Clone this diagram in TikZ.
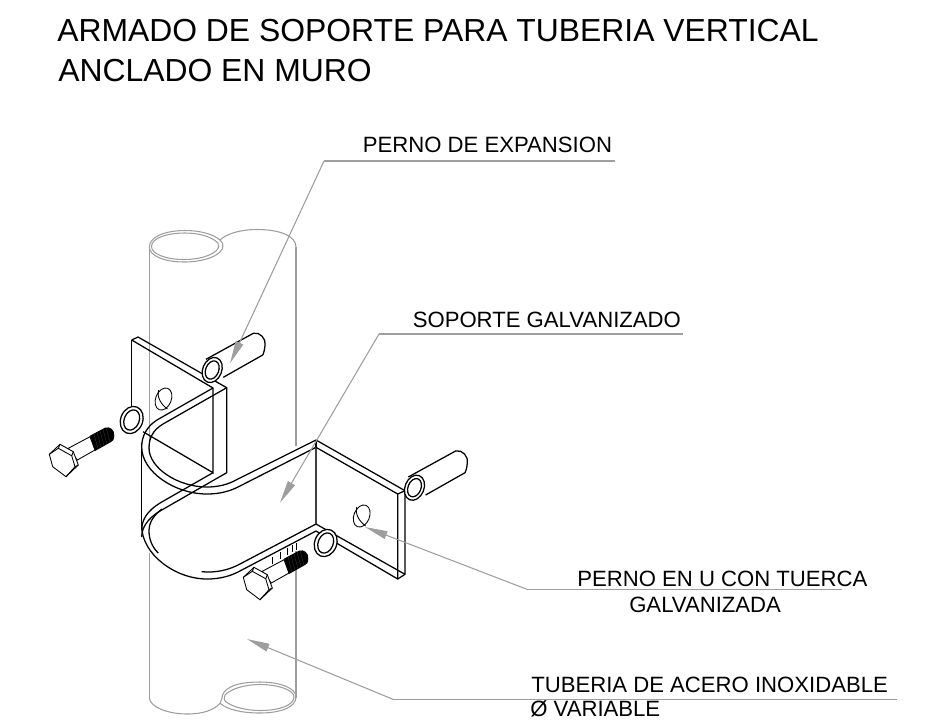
\documentclass[tikz,border=0pt]{standalone}
\usepackage{fontspec}
\setmainfont{Liberation Sans}
\usetikzlibrary{arrows.meta}
\definecolor{pipegray}{gray}{0.62}
\definecolor{leadgray}{gray}{0.62}
\newcommand\drawboltset{
  % washer
  \draw[steel,fill=white,rotate around={-22:(131.7,420)}] (131.7,420) ellipse (11 and 14);
  \draw[steel,rotate around={-22:(131.7,420)}] (131.7,420) ellipse (7.5 and 10.5);
  % shank and thread
  \draw[thin steel,fill=white] (68.3,448.3) -- (90,436.7) -- (95,450) -- (77.3,460) -- cycle;
  \fill[black] (90,435.7) -- (105,427.7) .. controls (110,426) and (115,430) .. (114.3,436)
    .. controls (114,440) and (113,441) .. (111,442) -- (95,451) .. controls (93,446) and (92,441) .. (90,435.7) -- cycle;
  \foreach \r in {0,3,6,9,12}{
    \draw[black!70,line width=0.15pt] (94+\r,434-0.55*\r) -- (98+\r,449-0.55*\r);
  }
  % head
  \draw[thin steel,fill=white] (49.3,454.3) -- (60,444.3) -- (73.3,451.7) -- (78.3,465) -- (66,476.7) -- (52.7,466.7) -- cycle;
  \draw[thin steel] (49.3,454.3) -- (58.3,448.3) -- (71.7,455.7) -- (75,466.7) -- (66,476.7);
  \draw[thin steel] (60,444.3) -- (58.3,448.3);
  \draw[thin steel] (73.3,451.7) -- (71.7,455.7);
  \draw[thin steel] (78.3,465) -- (75,466.7);
}
\newcommand\drawsleeve{
  \draw[steel,fill=white] (408.3,477) -- (455.6,451)
    .. controls (462,449) and (469,457) .. (467.3,463) .. controls (467,467) and (466,471) .. (465,472.7) -- (425.6,495);
  \draw[steel,fill=white,rotate around={-22:(414.5,487.7)}] (414.5,487.7) ellipse (9.5 and 13);
  \draw[steel,rotate around={-22:(414.5,487.7)}] (414.5,487.7) ellipse (6.5 and 9.5);
}
\begin{document}
\begin{tikzpicture}[
    x=0.75pt,y=-0.75pt,
    steel/.style={line width=0.95pt,black},
    thin steel/.style={line width=0.65pt,black},
    pipe/.style={line width=0.8pt,pipegray},
    lead/.style={line width=0.8pt,leadgray},
    arr/.style={-{Triangle[length=17pt,width=6pt]},lead},
    lbl/.style={font=\fontsize{16.6}{18}\selectfont,inner sep=0pt,anchor=base west},
    ttl/.style={font=\fontsize{23.9}{26}\selectfont,inner sep=0pt,anchor=base west}
  ]
    \useasboundingbox (0,0) rectangle (935,719);

    \node[ttl] (titleA) at (57,41.7) {ARMADO DE SOPORTE PARA TUBERIA VERTICAL};
    \node[ttl] (titleB) at (58,81) {ANCLADO EN MURO};

    % pipe
    \draw[pipe] (149.3,247) -- (149.3,450);
    \draw[pipe] (149.3,553) -- (149.3,698);
    \draw[pipe] (296,247) -- (296,446);
    \draw[pipe] (296,551) -- (296,698);
    \draw[pipe] (149.3,247) .. controls (149.3,237) and (165,230.5) .. (185,230.5)
      .. controls (200,230.5) and (213,234) .. (220,240)
      .. controls (226,234) and (240,229.5) .. (257,229.5)
      .. controls (280,229.5) and (296,236) .. (296,247);
    \draw[pipe] (149.3,247) .. controls (149.3,256) and (165,262) .. (184,262)
      .. controls (200,262) and (214,258) .. (220,252)
      .. controls (224,248) and (224,244) .. (220,240);
    \draw[pipe] (151.5,246.5) .. controls (151.5,238) and (167,233) .. (185,233)
      .. controls (200,233) and (212,237) .. (218,243)
      .. controls (219,246) and (219,248) .. (217,250)
      .. controls (211,256) and (198,259.5) .. (184,259.5)
      .. controls (166,259.5) and (151.5,254) .. (151.5,246.5);
    \draw[pipe] (149.3,698) .. controls (150,707) and (168,714) .. (187,714)
      .. controls (203,714) and (214,710) .. (220,703.3)
      .. controls (228,710) and (243,713) .. (260,713)
      .. controls (281,713) and (296,707) .. (296,697)
      .. controls (296,688) and (280,682) .. (260,682)
      .. controls (240,682) and (226,686) .. (222.5,695) .. controls (222,699) and (221,701) .. (220,703.3);
    \draw[pipe] (225,701) .. controls (232,707) and (246,710.5) .. (260,710.5)
      .. controls (280,710.5) and (294,705) .. (294,697)
      .. controls (294,690) and (278,684.5) .. (260,684.5)
      .. controls (243,684.5) and (229,690) .. (225,695) .. controls (224,698) and (224,700) .. (225,701);

    % left plate
    \draw[steel] (131.7,340) -- (138,337) -- (226.7,387.7) -- (226.7,472.7) -- (160,511)
      .. controls (147,519) and (141.7,528) .. (141.7,537);
    \draw[steel] (131.7,340) -- (213,388) -- (213,472.7) -- (143,431.7);
    \draw[steel] (131.7,340) -- (131.7,410);
    \draw[steel] (213,472.7) -- (160,503)
      .. controls (147,511) and (141.7,520) .. (141.7,530);

    % back of the strap
    \draw[steel] (213,388) -- (157,420) .. controls (146,427) and (141.7,437) .. (141.7,447)
      .. controls (141.7,472) and (175,494) .. (207,494)
      .. controls (220,494) and (230,491) .. (238,487) -- (316,447.3);
    \draw[steel] (226.7,387.7) -- (163,424) .. controls (153,430) and (149,438) .. (149,448)
      .. controls (149,468) and (178,487) .. (207,487)
      .. controls (218,487) and (228,484.5) .. (236,480) -- (316,440);
    \draw[steel] (141.7,443) -- (141.7,527);

    % front of the strap
    \draw[steel] (141.7,526) .. controls (141.7,554) and (175,579) .. (207,579)
      .. controls (220,579) and (230,576) .. (238,572) -- (316,531);
    \draw[steel] (162,509) .. controls (154,515) and (149,522) .. (149,531)
      .. controls (149,539) and (152,547) .. (158.3,553);
    \draw[steel] (201.7,571.7) .. controls (216,573) and (229,570) .. (240,564) -- (316,524);

    % right plate
    \draw[line width=1.2pt,black!75] (316,447.3) -- (316,524);
    \draw[steel] (316,440) -- (405,490.7) -- (405,574.3) -- (397.7,579) -- (316,531);
    \draw[steel] (316,447.3) -- (397.7,494) -- (397.7,579);
    \draw[steel] (397.7,494) -- (405,490.7);
    \draw[steel] (316,524) -- (405,574.3);
    \draw[steel] (316,440) -- (316,447.3);

    % holes
    \foreach \hx/\hy in {163.5/399,361.7/516}{
      \draw[thin steel,rotate around={-22:(\hx,\hy)}] (\hx,\hy) ellipse (7.8 and 11.5);
      \draw[thin steel] (\hx-5,\hy-9) .. controls (\hx-7,\hy-2) and (\hx-2,\hy+6) .. (\hx+4,\hy+10);
    }

    % legs seen under the strap
    \foreach \sx/\sy in {272/557,280/552,287/548,292/545,296/543}{
      \draw[thin steel] (\sx,\sy) -- (\sx,\sy+7);
    }

    % bolts and sleeves
    \drawboltset
    \begin{scope}[shift={(194,123)}]
      \drawboltset
    \end{scope}
    \begin{scope}[shift={(-202.3,-117.7)}]
      \drawsleeve
    \end{scope}
    \drawsleeve

    % labels
    \node[lbl] (labelA) at (362.5,152.7) {PERNO DE EXPANSION};
    \node[lbl] (labelB) at (412.5,327.7) {SOPORTE GALVANIZADO};
    \node[lbl] (labelC) at (577,586) {PERNO EN U CON TUERCA};
    \node[lbl] (labelD) at (629,612) {GALVANIZADA};
    \node[lbl] (labelE) at (531,692) {TUBERIA DE ACERO INOXIDABLE};
    \node[lbl] (labelF) at (530,716.5) {Ø VARIABLE};

    \coordinate (kneeA) at (324,161);
    \coordinate (endA) at (615,161);
    \coordinate (tipA) at (230,363.3);
    \coordinate (kneeB) at (379,334);
    \coordinate (endB) at (683,334);
    \coordinate (tipB) at (280,502.7);
    \coordinate (kneeC) at (528,589.7);
    \coordinate (endC) at (842,589.7);
    \coordinate (tipC) at (365,527);
    \coordinate (kneeD) at (393,699.3);
    \coordinate (endD) at (897,699.3);
    \coordinate (tipD) at (247,639);

    \draw[lead] (endA) -- (kneeA);
    \draw[arr] (kneeA) -- (tipA);
    \draw[lead] (endB) -- (kneeB);
    \draw[arr] (kneeB) -- (tipB);
    \draw[lead] (endC) -- (kneeC);
    \draw[arr] (kneeC) -- (tipC);
    \draw[lead] (endD) -- (kneeD);
    \draw[arr] (kneeD) -- (tipD);
  \end{tikzpicture}
\end{document}
